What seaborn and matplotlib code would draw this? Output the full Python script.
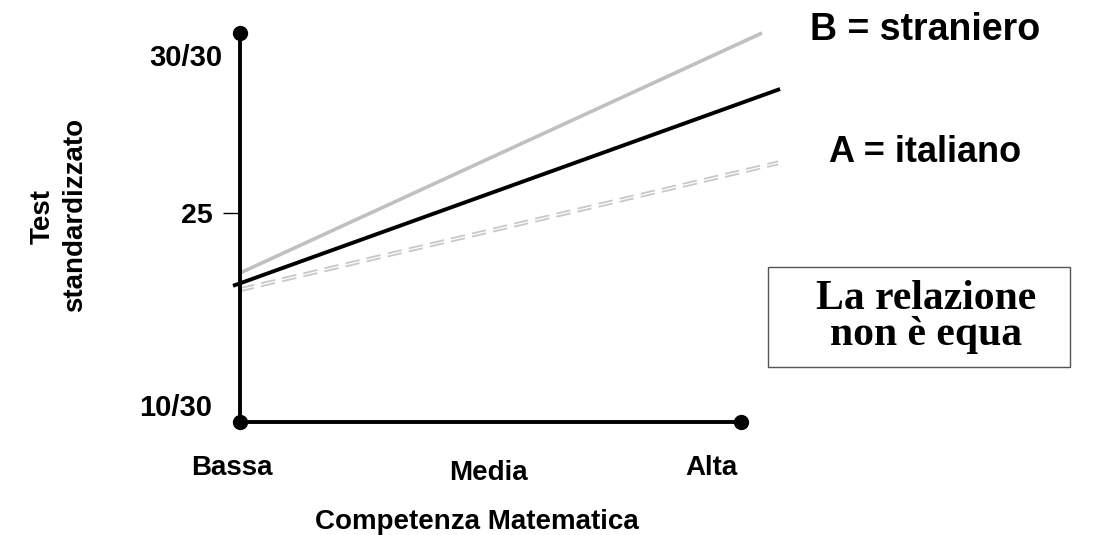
import matplotlib
matplotlib.use("Agg")
import matplotlib.pyplot as plt
import seaborn as sns
import pandas as pd

# ---- data ----
levels = ["Bassa", "Media", "Alta"]
level_x = [-0.016, 0.495, 0.94]
level_y = [-11.8, -13.1, -11.8]

y_tick_pos = [53.7]
y_tick_labels = ["25"]
y_end_labels = ["30/30", "10/30"]
y_end_pos = [93.6, 3.6]

stranieri_x = [0.0, 1.042]
stranieri_y = [38.3, 100.0]
italiani_x = [-0.014, 1.078]
italiani_y = [35.0, 85.6]
equo_x = [0.0, 1.074]
equo_hi_y = [34.4, 67.0]
equo_lo_y = [33.6, 66.2]

W, H = 1099, 535
sns.set_style("white")
plt.rcParams["font.family"] = ["Liberation Sans", "DejaVu Sans"]
plt.rcParams["text.color"] = "black"
plt.rcParams["axes.labelcolor"] = "black"
plt.rcParams["xtick.color"] = "black"
plt.rcParams["ytick.color"] = "black"

fig = plt.figure(figsize=(W / 100, H / 100), dpi=100)
ax = fig.add_axes([240 / W, (H - 422) / H, 501 / W, 389 / H])
ax.set_xlim(0, 1)
ax.set_ylim(0, 100)

df = pd.concat([
    pd.DataFrame({"x": stranieri_x, "y": stranieri_y, "g": "B"}),
    pd.DataFrame({"x": italiani_x, "y": italiani_y, "g": "A"}),
    pd.DataFrame({"x": equo_x, "y": equo_hi_y, "g": "E1"}),
    pd.DataFrame({"x": equo_x, "y": equo_lo_y, "g": "E2"}),
])

sns.lineplot(data=df[df.g == "E1"], x="x", y="y", ax=ax, color="#c8c8c8",
             linewidth=1.3, linestyle=(0, (8, 4)), clip_on=False, estimator=None)
sns.lineplot(data=df[df.g == "E2"], x="x", y="y", ax=ax, color="#c8c8c8",
             linewidth=1.3, linestyle=(0, (8, 4)), clip_on=False, estimator=None)
sns.lineplot(data=df[df.g == "B"], x="x", y="y", ax=ax, color="#c0c0c0",
             linewidth=2.6, clip_on=False, estimator=None, solid_capstyle="butt")
sns.lineplot(data=df[df.g == "A"], x="x", y="y", ax=ax, color="black",
             linewidth=2.8, clip_on=False, estimator=None, solid_capstyle="butt")

# axes with dotted ends
for s in ["top", "right"]:
    ax.spines[s].set_visible(False)
for s in ["left", "bottom"]:
    ax.spines[s].set_linewidth(2.8)
    ax.spines[s].set_color("black")
ax.plot([0, 0, 1], [100, 0, 0], "o", color="black", markersize=10,
        clip_on=False, zorder=5)

ax.set_xticks([])
ax.set_yticks(y_tick_pos)
ax.set_yticklabels(y_tick_labels, fontsize=20.5, fontweight="bold")
ax.tick_params(axis="y", length=12.5, width=1.0, pad=7, color="black", left=True)
ax.set_xlabel("")
ax.set_ylabel("")

for lab, yv in zip(y_end_labels, y_end_pos):
    xr = -0.036 if lab == "30/30" else -0.056
    ax.text(xr, yv, lab, ha="right", va="center", fontsize=21,
            fontweight="bold", clip_on=False)

for lab, xv, yv in zip(levels, level_x, level_y):
    ax.text(xv, yv, lab, ha="center", va="center", fontsize=20,
            fontweight="bold", clip_on=False)

fig.text(477 / W, 1 - 522 / H, "Competenza Matematica", ha="center",
         va="center", fontsize=20, fontweight="bold")
fig.text(43 / W, 1 - 217 / H, "Test", rotation=90, ha="center",
         va="center", fontsize=20, fontweight="bold")
fig.text(75 / W, 1 - 215 / H, "standardizzato", rotation=90, ha="center",
         va="center", fontsize=20, fontweight="bold")

fig.text(925 / W, 1 - 30 / H, "B = straniero", ha="center", va="center",
         fontsize=27, fontweight="bold")
fig.text(925 / W, 1 - 153 / H, "A = italiano", ha="center", va="center",
         fontsize=26, fontweight="bold")

# box
box = plt.Rectangle((768 / W, 1 - 367 / H), 302 / W, 100 / H,
                    transform=fig.transFigure, fill=False,
                    edgecolor="#555555", linewidth=1.0)
fig.add_artist(box)
serif = ["Liberation Serif", "DejaVu Serif"]
fig.text(926 / W, 1 - 317 / H, "La relazione\nnon è equa", ha="center",
         va="center", multialignment="center", linespacing=0.95,
         fontsize=30, fontweight="bold", family=serif)

fig.savefig("out.png", dpi=100)
